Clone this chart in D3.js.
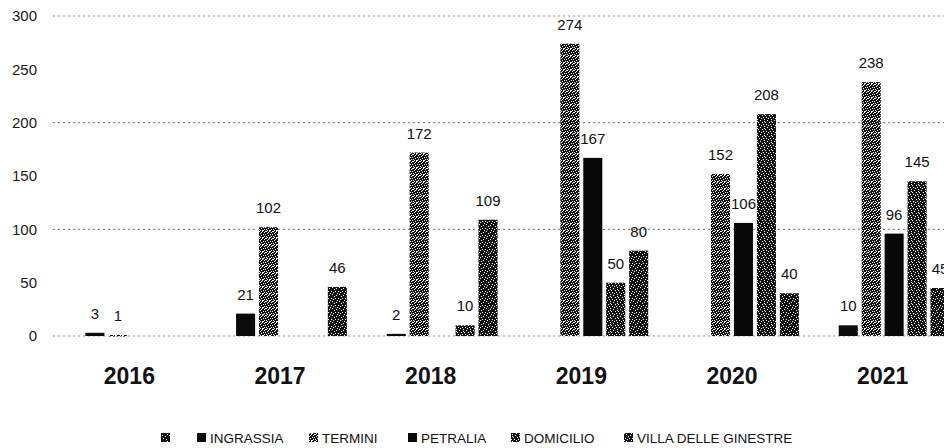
<!DOCTYPE html>
<html><head><meta charset="utf-8">
<script src="https://cdn.jsdelivr.net/npm/d3@7"></script>
<style>
html,body{margin:0;padding:0;background:#fff;}
text{font-family:"Liberation Sans",Arial,sans-serif;}
</style></head>
<body>
<svg id="chart" width="944" height="448"></svg>
<script>
// ---- data ----
const years = ["2016","2017","2018","2019","2020","2021"];
const seriesNames = ["", "INGRASSIA", "TERMINI", "PETRALIA", "DOMICILIO", "VILLA DELLE GINESTRE"];
const blankSeries = [null, null, null, null, null, null];
const ingrassia   = [3, 21, 2, null, null, 10];
const termini     = [1, 102, 172, 274, 152, 238];
const petralia    = [null, null, null, 167, 106, 96];
const domicilio   = [null, null, 10, 50, 208, 145];
const villa       = [null, 46, 109, 80, 40, 45];
const yTicks = [0, 50, 100, 150, 200, 250, 300];
const gridTicks = [0, 100, 200, 300];

const seriesValues = [blankSeries, ingrassia, termini, petralia, domicilio, villa];

const svg = d3.select("#chart");
const defs = svg.append("defs");

// dithered fills imitating the scanned print
function makePattern(id, whitePts) {
  const p = defs.append("pattern").attr("id", id).attr("patternUnits", "userSpaceOnUse")
    .attr("width", 7).attr("height", 7);
  p.append("rect").attr("width", 7).attr("height", 7).attr("fill", "#111");
  whitePts.forEach(([x, y]) => p.append("rect").attr("x", x).attr("y", y).attr("width", 1).attr("height", 1).attr("fill", "#fff"));
}
makePattern("pTer", [[0,0],[3,0],[5,1],[1,2],[4,3],[6,3],[2,4],[0,5],[5,5],[3,6],[1,6],[6,0],[2,1],[4,6]]);
makePattern("pDom", [[1,0],[4,1],[2,3],[6,3],[0,5],[3,5],[5,6],[1,2]]);
makePattern("pVil", [[0,1],[3,0],[5,2],[2,4],[4,5],[1,6],[6,4]]);
makePattern("pBlank", [[1,1],[4,2],[2,4],[5,5],[6,0]]);

const fills = ["url(#pBlank)", "#0b0b0b", "url(#pTer)", "#080808", "url(#pDom)", "url(#pVil)"];

// ---- scales ----
const x0 = d3.scaleBand().domain(years).range([54, 958]).padding(0);
const x1 = d3.scaleBand().domain(seriesNames.map((d, i) => i))
  .range([6.5, x0.bandwidth() - 6.5]).paddingInner(0.17).paddingOuter(0.085);
const y = d3.scaleLinear().domain([0, 300]).range([336, 16]);

// gridlines
svg.append("g").selectAll("line").data(gridTicks).join("line")
  .attr("x1", 53).attr("x2", 944)
  .attr("y1", d => y(d)).attr("y2", d => y(d))
  .attr("stroke", "#8a8a8a").attr("stroke-width", 1.2)
  .attr("stroke-dasharray", "2,3");

// y axis labels
const yAxis = d3.axisLeft(y).tickValues(yTicks).tickSize(0).tickPadding(0);
const gy = svg.append("g").attr("transform", "translate(37,0)").call(yAxis);
gy.select(".domain").remove();
gy.selectAll("text").attr("font-size", 15).attr("fill", "#1a1a1a")
  .style("font-family", "'Liberation Sans', Arial, sans-serif");

// bars
const rows = [];
years.forEach((yr, yi) => {
  seriesValues.forEach((arr, si) => {
    if (arr[yi] != null) rows.push({ yr, si, v: arr[yi] });
  });
});
svg.append("g").selectAll("rect").data(rows).join("rect")
  .attr("x", d => x0(d.yr) + x1(d.si))
  .attr("width", x1.bandwidth())
  .attr("y", d => y(d.v))
  .attr("height", d => Math.max(y(0) - y(d.v), 1.5))
  .attr("fill", d => fills[d.si]);

// data labels
svg.append("g").selectAll("text").data(rows).join("text")
  .attr("x", d => x0(d.yr) + x1(d.si) + x1.bandwidth() / 2)
  .attr("y", d => y(d.v) - 14)
  .attr("text-anchor", "middle")
  .attr("font-size", 15)
  .attr("fill", "#111")
  .text(d => d.v);

// category axis
const xAxis = d3.axisBottom(x0).tickSize(0).tickPadding(0);
const gx = svg.append("g").attr("transform", "translate(0,367)").call(xAxis);
gx.select(".domain").remove();
gx.selectAll("text").attr("font-size", 23).attr("font-weight", "bold").attr("fill", "#111")
  .attr("dy", "0.75em")
  .style("font-family", "'Liberation Sans', Arial, sans-serif");

// legend
const legendX = [161, 197, 309, 408, 511, 624];
const lg = svg.append("g");
seriesNames.forEach((name, i) => {
  lg.append("rect").attr("x", legendX[i]).attr("y", 433).attr("width", 9).attr("height", 9)
    .attr("fill", fills[i]);
  if (name) {
    lg.append("text").attr("x", legendX[i] + 13).attr("y", 443)
      .attr("font-size", 13.5).attr("fill", "#111").text(name);
  }
});
</script>
</body></html>
